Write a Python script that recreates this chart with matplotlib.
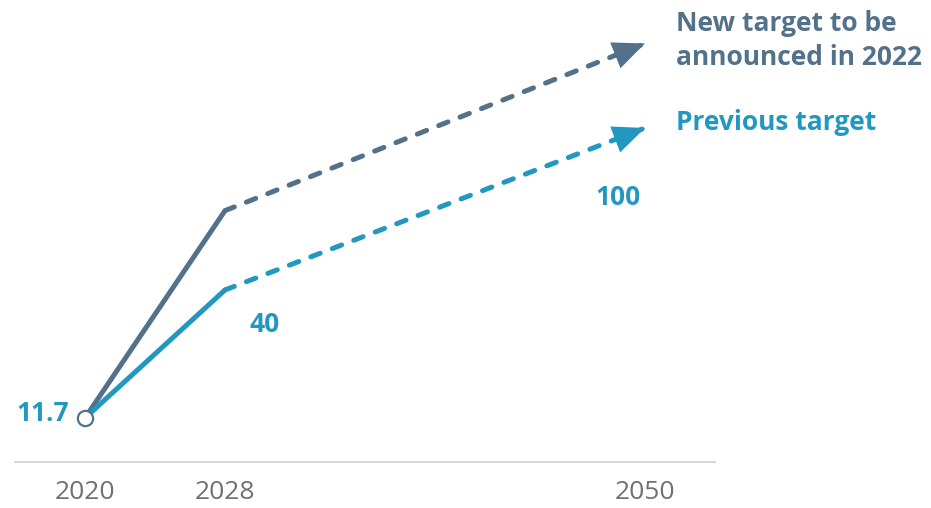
import numpy as np
import matplotlib
matplotlib.use("Agg")
import matplotlib.pyplot as plt

# Target pathway data
years = ["2020", "2028", "2050"]
x_pos = [0, 1, 4]
previous_target = [11.7, 40, 100]
new_target = [11.7, 66, 142]

slate = "#54718a"
teal = "#2298c0"
grey_text = "#707070"

plt.rcParams["font.family"] = ["Open Sans", "DejaVu Sans"]

fig = plt.figure(figsize=(9.31, 5.08), dpi=100)
ax = fig.add_axes([15 / 931, 46 / 508, 700 / 931, 462 / 508])

ax.set_yscale("function", functions=(lambda v: np.sqrt(np.clip(v, 0, None)),
                                     lambda s: np.square(s)))
ax.set_xlim(-0.5, 4.5)
ax.set_ylim(5.862, 166.5)

lw = 3.6
dash = (2.0, 2.6)

def draw_path(values, color, z):
    ax.plot(x_pos[:2], values[:2], color=color, lw=lw, solid_capstyle="round",
            solid_joinstyle="round", zorder=z, clip_on=False)
    ax.plot(x_pos[1:], values[1:], color=color, lw=lw, dashes=dash,
            dash_capstyle="round", zorder=z, clip_on=False)
    ax.annotate("", xy=(x_pos[2], values[2]), xytext=(x_pos[1], values[1]),
                arrowprops=dict(arrowstyle="-|>,head_length=2.3,head_width=1.0",
                                mutation_scale=10, lw=0, color=color,
                                shrinkA=0, shrinkB=0),
                zorder=z + 0.5, annotation_clip=False)

draw_path(new_target, slate, 2)
draw_path(previous_target, teal, 3)

# Starting point
ax.plot([x_pos[0]], [previous_target[0]], marker="o", ms=11, mfc="white",
        mec=slate, mew=1.6, zorder=5, clip_on=False)

# Value labels
label_kw = dict(textcoords="offset pixels", color=teal, fontsize=19,
                fontweight="bold", annotation_clip=False)
ax.annotate("11.7", xy=(x_pos[0], previous_target[0]), xytext=(-16, 4),
            ha="right", va="center", **label_kw)
ax.annotate("40", xy=(x_pos[1], previous_target[1]), xytext=(40, -35),
            ha="center", va="center", **label_kw)
ax.annotate("100", xy=(x_pos[2], previous_target[2]), xytext=(-27, -70),
            ha="center", va="center", **label_kw)

# Series labels
ax.annotate("New target to be\nannounced in 2022", xy=(x_pos[2], new_target[2]),
            xytext=(31, 3), textcoords="offset pixels", ha="left", va="center",
            color=slate, fontsize=19, fontweight="bold", linespacing=1.33,
            annotation_clip=False)
ax.annotate("Previous target", xy=(x_pos[2], previous_target[2]),
            xytext=(31, 5), textcoords="offset pixels", ha="left", va="center",
            color=teal, fontsize=19, fontweight="bold", annotation_clip=False)

# Axis styling
for side in ["left", "right", "top"]:
    ax.spines[side].set_visible(False)
ax.spines["bottom"].set_color("#d9d9d9")
ax.spines["bottom"].set_linewidth(1.5)
ax.set_xticks(x_pos, years)
ax.tick_params(axis="x", length=0, pad=13, labelsize=19, labelcolor=grey_text)
ax.set_yticks([])
ax.yaxis.set_minor_locator(matplotlib.ticker.NullLocator())
ax.patch.set_alpha(0)

fig.savefig("out.png", dpi=100)
